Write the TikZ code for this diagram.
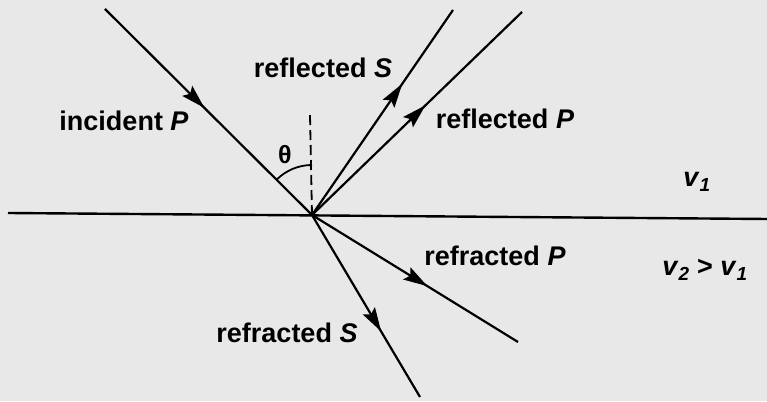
\documentclass[tikz,border=0pt]{standalone}
\usepackage{fontspec}
\setmainfont{Liberation Sans}
\usetikzlibrary{arrows.meta,decorations.markings,calc}
\tikzset{
  ray/.style={line width=2.2pt, black},
  midarrow/.style={postaction={decorate}, decoration={markings,
     mark=at position #1 with {\arrow{Stealth[length=24pt,width=14pt,inset=4pt]}}}},
  lbl/.style={font=\fontsize{27}{27}\selectfont\bfseries, inner sep=0pt},
}
\begin{document}
\begin{tikzpicture}[x=1pt,y=1pt]
\fill[black!9] (0,0) rectangle (767,401);
\useasboundingbox (0,0) rectangle (767,401);
\coordinate (O) at (312,186);
\coordinate (L) at (8,188);
\coordinate (R) at (767,182);
\coordinate (inc) at (105,392);
\coordinate (rS) at (453,391);
\coordinate (rP) at (522,389);
\coordinate (tP) at (518,59);
\coordinate (tS) at (420,4);
\coordinate (N) at (310,286);
\draw[ray, line width=2.4pt] (L) -- (R);
\draw[ray, midarrow=0.48] (inc) -- (O);
\draw[ray, midarrow=0.64] (O) -- (rS);
\draw[ray, midarrow=0.54] (O) -- (rP);
\draw[ray, midarrow=0.56] (O) -- (tP);
\draw[ray, midarrow=0.64] (O) -- (tS);
\draw[line width=1.8pt, dash pattern=on 10pt off 5pt] (O) -- (N);
\draw[line width=1.8pt] ($(O)+(90:50)$) arc (90:135:50);
\node[lbl] (th) at (285,246) {\fontsize{25}{25}\selectfont θ};
\node[lbl] (incl) at (124,280) {incident \textit{P}};
\node[lbl] (rSl) at (323,333) {reflected \textit{S}};
\node[lbl] (rPl) at (505,282) {reflected \textit{P}};
\node[lbl] (tPl) at (495,145) {refracted \textit{P}};
\node[lbl] (tSl) at (287,68) {refracted \textit{S}};
\node[lbl] (v1) at (697,219) {\textit{v}\textsubscript{\textit{1}}};
\node[lbl] (v2) at (705,131) {\textit{v}\textsubscript{\textit{2}} > \textit{v}\textsubscript{\textit{1}}};
\end{tikzpicture}
\end{document}
